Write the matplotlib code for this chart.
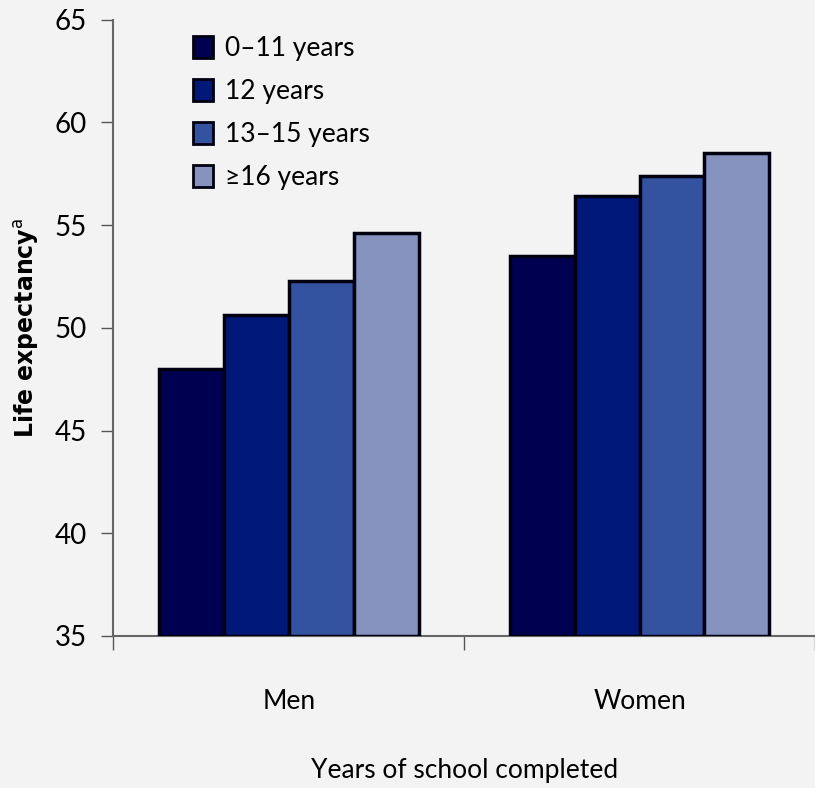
import numpy as np
import matplotlib.pyplot as plt

groups = ['Men', 'Women']
series = ['0\u201311 years', '12 years', '13\u201315 years', '\u226516 years']
values = [
    [48.0, 53.5],   # 0-11
    [50.6, 56.4],   # 12
    [52.3, 57.4],   # 13-15
    [54.6, 58.5],   # >=16
]
colors = ['#000050', '#001878', '#3352a0', '#8593be']

plt.rcParams['font.family'] = ['Lato', 'DejaVu Sans']
bg = '#f3f3f3'

fig = plt.figure(figsize=(8.15, 7.88), dpi=100, facecolor=bg)
ax = fig.add_axes([0.139, 0.193, 0.861, 0.782], facecolor=bg)

x = np.arange(len(groups))
w = 0.185
for i, (name, vals) in enumerate(zip(series, values)):
    ax.bar(x + (i - 1.5) * w, np.array(vals) - 35, w, bottom=35,
           color=colors[i], edgecolor='#000010', linewidth=2.5, label=name, zorder=3)

ax.set_xlim(-0.5, 1.5)
ax.set_ylim(35, 65)
ax.set_yticks(np.arange(35, 66, 5))
ax.set_xticks(x)
ax.set_xticklabels(groups)
ax.set_xticks([-0.5, 0.5, 1.5], minor=True)
ax.tick_params(axis='x', which='major', length=0, pad=38, labelsize=19)
ax.tick_params(axis='x', which='minor', length=10, width=1, color='#555555')
ax.tick_params(axis='y', length=9, width=1, color='#555555', labelsize=20, pad=10)

for s in ['top', 'right']:
    ax.spines[s].set_visible(False)
for s in ['left', 'bottom']:
    ax.spines[s].set_color('#666666')
    ax.spines[s].set_linewidth(1.5)

ax.set_xlabel('Years of school completed', fontsize=19, labelpad=32)
ax.set_ylabel(r'Life expectancy$^{\mathrm{a}}$', fontsize=17, fontweight='bold',
              family=['DejaVu Sans'], labelpad=10)

leg = ax.legend(loc='upper left', bbox_to_anchor=(0.08, 1.012), frameon=False,
                fontsize=19, handlelength=0.75, handleheight=0.9,
                handletextpad=0.45, labelspacing=0.68)
for h in leg.legend_handles:
    h.set_linewidth(2)

fig.savefig('out.png', dpi=100, facecolor=bg)
